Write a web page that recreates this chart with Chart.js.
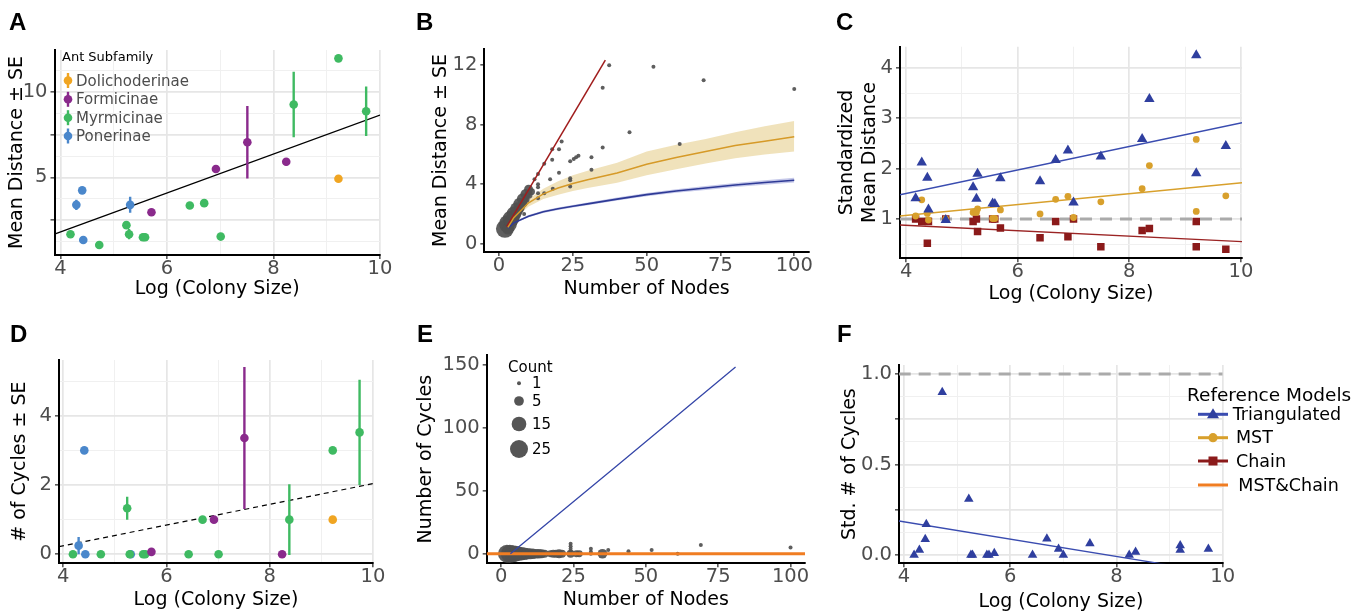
<!DOCTYPE html>
<html>
<head>
<meta charset="utf-8">
<title>Ant nest networks</title>
<script src="https://cdn.jsdelivr.net/npm/chart.js@4.4.1/dist/chart.umd.min.js"></script>
<style>
  body { margin: 0; background: #fff; }
  #page { position: relative; width: 1367px; height: 614px; overflow: hidden; font-family: "DejaVu Sans", Verdana, sans-serif; }
  canvas { position: absolute; }
  .tag { position: absolute; font: bold 24px "Liberation Sans", Arial, sans-serif; line-height: 24px; }
  .t { position: absolute; white-space: nowrap; }
  #keys { position: absolute; left: 0; top: 0; overflow: visible; }
</style>
</head>
<body>
<div id="page">
  <canvas id="chartA" width="405" height="305" style="left:0;top:0"></canvas>
  <canvas id="chartB" width="420" height="305" style="left:405px;top:0"></canvas>
  <canvas id="chartC" width="450" height="305" style="left:825px;top:0"></canvas>
  <canvas id="chartD" width="405" height="309" style="left:0;top:305px"></canvas>
  <canvas id="chartE" width="420" height="309" style="left:405px;top:305px"></canvas>
  <canvas id="chartF" width="542" height="309" style="left:825px;top:305px"></canvas>
  <svg id="keys" width="1367" height="614"></svg>
  <div class="tag" style="left:9px;top:10px">A</div>
  <div class="tag" style="left:416px;top:10px">B</div>
  <div class="tag" style="left:836px;top:10px">C</div>
  <div class="tag" style="left:10px;top:322px">D</div>
  <div class="tag" style="left:417px;top:322px">E</div>
  <div class="tag" style="left:837px;top:322px">F</div>
</div>
<script>
// ---- A & D: species means by ant subfamily ----
const subfamilies = ['Dolichoderinae', 'Formicinae', 'Myrmicinae', 'Ponerinae'];
const subColors = ['#f0a522', '#8a2a8c', '#3fba62', '#4a87cb'];

const doliLogSize = [9.22];
const doliDist = [4.92];
const doliDistSE = [0];
const doliCycles = [1.0];
const doliCyclesSE = [0];

const formLogSize = [5.71, 6.92, 7.51, 8.24];
const formDist = [2.96, 5.49, 7.06, 5.92];
const formDistSE = [0, 0, 2.13, 0.22];
const formCycles = [0.07, 1.0, 3.36, 0];
const formCyclesSE = [0, 0, 2.05, 0];

const myrmLogSize = [4.19, 4.73, 5.24, 5.29, 5.55, 5.59, 6.43, 6.70, 7.01, 8.38, 9.22, 9.74];
const myrmDist = [1.67, 1.04, 2.20, 1.67, 1.49, 1.49, 3.35, 3.49, 1.53, 9.27, 11.98, 8.88];
const myrmDistSE = [0, 0, 0, 0.3, 0, 0, 0, 0, 0, 1.92, 0, 1.45];
const myrmCycles = [0, 0, 1.33, 0, 0, 0, 0, 1.0, 0, 1.0, 3.0, 3.52];
const myrmCyclesSE = [0, 0, 0.33, 0, 0, 0, 0, 0, 0, 1.02, 0, 1.52];

const ponLogSize = [4.30, 4.41, 4.43, 5.31];
const ponDist = [3.39, 4.24, 1.33, 3.39];
const ponDistSE = [0.3, 0, 0, 0.47];
const ponCycles = [0.25, 3.0, 0, 0];
const ponCyclesSE = [0.25, 0, 0, 0];

const aFitX = [3.89, 10];
const aFitY = [1.67, 8.65];
const dFitX = [3.92, 10];
const dFitY = [0.22, 2.04];

// ---- B & E: individual networks ----
const bNodes = [2, 3, 3, 4, 4, 5, 5, 6, 6, 7, 7, 8, 8, 8.5, 9, 9, 10, 10, 11, 12, 13.2, 13.2, 13.2, 13.2, 13.2,
  15.3, 15.3, 17.3, 18, 18, 18.2, 20.3, 20.3, 21.2, 24.1, 24.1, 24.1, 24.1, 25.3, 26.1, 26.9, 31.3, 31.3,
  35.1, 35.1, 37.3, 44.2, 52.3, 61.2, 69.3, 100];
const bMeanDist = [1.0, 1.33, 1.0, 1.67, 1.5, 2.0, 1.8, 2.33, 2.1, 2.67, 2.4, 3.0, 2.7, 2.0, 3.33, 3.0, 3.67, 3.3, 3.5, 4.34, 4.69, 4.0, 3.8, 3.39, 3.06,
  5.37, 3.39, 4.34, 6.36, 5.64, 3.7, 6.36, 4.78, 6.87, 5.55, 4.4, 4.27, 3.84, 5.69, 5.82, 5.91, 5.82, 4.97,
  10.5, 6.47, 12.0, 7.5, 11.9, 6.7, 11.0, 10.4];
const bCount = [25, 25, 8, 20, 10, 15, 8, 12, 6, 10, 5, 8, 4, 1, 6, 3, 4, 3, 2, 1, 1, 1, 1, 1, 1,
  1, 1, 1, 1, 1, 1, 1, 1, 1, 1, 1, 1, 1, 1, 1, 1, 1, 1,
  1, 1, 1, 1, 1, 1, 1, 1];

const bCurveNodes = [3, 5, 10, 15, 20, 25, 30, 40, 50, 60, 70, 80, 90, 100];
const bMstMean = [1.1, 1.75, 2.75, 3.35, 3.75, 4.05, 4.3, 4.75, 5.35, 5.8, 6.2, 6.6, 6.9, 7.2];
const bMstLow = [1.0, 1.6, 2.5, 3.0, 3.3, 3.55, 3.75, 4.1, 4.6, 5.0, 5.4, 5.75, 6.0, 6.2];
const bMstHigh = [1.2, 1.9, 3.0, 3.7, 4.2, 4.6, 4.9, 5.45, 6.2, 6.65, 7.05, 7.5, 7.9, 8.25];
const bTriMean = [1.05, 1.4, 1.85, 2.15, 2.35, 2.52, 2.68, 3.0, 3.3, 3.55, 3.75, 3.95, 4.12, 4.27];
const bTriLow = [1.0, 1.33, 1.77, 2.07, 2.27, 2.43, 2.59, 2.9, 3.19, 3.43, 3.62, 3.81, 3.97, 4.11];
const bTriHigh = [1.1, 1.47, 1.93, 2.23, 2.43, 2.61, 2.77, 3.1, 3.41, 3.67, 3.88, 4.09, 4.27, 4.43];
const bChainNodes = [2.6, 36];
const bChainMean = [1.15, 12.35];

const eNodes = [2, 3, 4, 5, 6, 7, 8, 9, 10, 11, 12, 13, 14, 15, 3, 4, 5, 13, 17, 18, 19, 20, 21,
  24, 24, 24, 24, 24, 26, 27, 31, 31, 31, 35, 37, 44, 52, 61, 69, 100];
const eCycles = [0, 0, 0, 0, 0, 0, 0, 0, 0, 0, 0, 0, 0, 0, 1, 1, 1, 1, 0, 0, 0, 0, 0,
  0, 2, 4, 6, 8, 0, 0, 0, 1.5, 4, 0, 3, 2, 3, 0, 7, 5];
const eCount = [25, 25, 22, 18, 14, 12, 10, 8, 7, 6, 5, 5, 4, 3, 3, 2, 2, 1, 2, 3, 3, 4, 3,
  3, 1, 1, 1, 1, 2, 2, 1, 1, 1, 5, 1, 1, 1, 1, 1, 1];
const eTriNodes = [3.2, 40, 81];
const eTriCycles = [0, 70, 148.4];
const eZeroNodes = [-5, 105];
const eZeroCycles = [0, 0];
const countLegend = [1, 5, 15, 25];

// ---- C & F: standardized against reference models ----
const cLogSize = [4.17, 4.28, 4.38, 4.40, 4.71, 5.20, 5.26, 5.28, 5.55, 5.59, 5.69, 6.40, 6.68, 6.90, 7.00, 7.49, 8.23, 8.36, 9.20, 9.20, 9.73];
const cTri = [1.41, 2.12, 1.82, 1.19, 0.98, 1.63, 1.40, 1.90, 1.31, 1.30, 1.81, 1.75, 2.17, 2.36, 1.33, 2.24, 2.59, 3.38, 4.25, 1.91, 2.45];
const cMst = [1.06, 1.38, 1.11, 0.98, 1.0, 1.13, 1.13, 1.20, 1.01, 1.01, 1.18, 1.10, 1.39, 1.45, 1.03, 1.34, 1.60, 2.06, 2.58, 1.15, 1.46];
const cChain = [1.0, 0.95, 0.52, 0.95, 1.0, 0.95, 1.0, 0.75, 1.0, 1.0, 0.82, 0.63, 0.95, 0.65, 1.0, 0.45, 0.77, 0.81, 0.95, 0.45, 0.40];
const cFitX = [3.89, 10.02];
const cFitTri = [1.48, 2.91];
const cFitMst = [1.06, 1.72];
const cFitChain = [0.88, 0.55];

const fLogSize = [4.19, 4.29, 4.40, 4.42, 4.72, 5.22, 5.26, 5.29, 5.56, 5.60, 5.70, 6.42, 6.69, 6.91, 7.00, 7.50, 8.24, 8.36, 9.20, 9.20, 9.73];
const fTriCycles = [0, 0.028, 0.087, 0.17, 0.90, 0.31, 0, 0, 0, 0, 0.01, 0, 0.09, 0.033, 0, 0.064, 0, 0.017, 0.053, 0.028, 0.033];
const fFitX = [3.9, 10];
const fFitY = [0.188, -0.104];
const refLine = [1, 1];

const refModels = ['Triangulated', 'MST', 'Chain', 'MST&Chain'];

// ---- axis ticks ----
const logTicks = [4, 5, 6, 7, 8, 9, 10];
const logMajor = [4, 6, 8, 10];
const aYTicks = [1.25, 2.5, 3.75, 5, 6.25, 7.5, 8.75, 10, 11.25];
const aYMajor = [2.5, 5, 7.5, 10];
const aYLabels = [5, 10];
const nodeTicks = [0, 25, 50, 75, 100];
const bYTicks = [0, 4, 8, 12];
const cYTicks = [0.5, 1, 1.5, 2, 2.5, 3, 3.5, 4];
const cYMajor = [1, 2, 3, 4];
const dYTicks = [0, 1, 2, 3, 4, 5];
const dYMajor = [0, 2, 4];
const eYTicks = [0, 50, 100, 150];
const fYTicks = [0, 0.125, 0.25, 0.375, 0.5, 0.625, 0.75, 0.875, 1];
const fYMajor = [0, 0.25, 0.5, 0.75, 1];
const fYLabels = [0, 0.5, 1];

const TRI = '#2f3f9f', TRI_LINE = '#3a4cb0';
const MST = '#d8a02c', CHAIN = '#8b1a1a', BOTH = '#f07d22';

Chart.defaults.font.family = '"DejaVu Sans", Verdana, sans-serif';
Chart.defaults.animation = false;

const sizeFor = c => 2.0 + 7.0 * Math.sqrt((c - 1) / 24);
const near = (list, v) => list.some(a => Math.abs(a - v) < 1e-6);
const pts = (xs, ys) => xs.map((x, i) => ({ x, y: ys[i] }));

function axis(kind, o, size) {
  const majors = o.majors || o.ticks;
  const labels = o.labels || majors;
  const isMajor = c => c.tick && near(majors, c.tick.value);
  return {
    type: 'linear', min: o.min, max: o.max,
    afterBuildTicks: s => { s.ticks = o.ticks.map(v => ({ value: v })); },
    afterFit: s => { if (kind === 'x') s.height = size; else s.width = size; },
    border: { color: '#000', width: 2 },
    grid: {
      drawOnChartArea: o.grid !== false,
      color: c => isMajor(c) ? '#e6e6e6' : '#f0f0f0',
      lineWidth: c => isMajor(c) ? 1.7 : 1,
      tickLength: 4, tickWidth: 1.3,
      tickColor: c => isMajor(c) ? '#333' : 'rgba(0,0,0,0)'
    },
    ticks: {
      autoSkip: false, maxRotation: 0, padding: kind === 'x' ? 0 : 3,
      color: '#4d4d4d', font: { size: 19.5, lineHeight: 1 },
      callback: v => near(labels, v) ? (o.fmt ? o.fmt(v) : String(v)) : ''
    },
    title: {
      display: true, text: o.title, color: '#000',
      font: { size: 19, lineHeight: 1.2 },
      padding: kind === 'x' ? { top: 0, bottom: o.tpad } : { top: o.tpad, bottom: 0 }
    }
  };
}

function panel(id, box, plot, xo, yo, datasets) {
  xo.tpad = box.h - xo.titleAt - 11.4;
  yo.tpad = yo.titleAt - 11.4;
  return new Chart(document.getElementById(id), {
    type: 'scatter',
    data: { datasets },
    options: {
      responsive: false,
      layout: { padding: { left: 0, top: plot.top, right: box.w - plot.right, bottom: 0 } },
      plugins: { legend: { display: false }, tooltip: { enabled: false } },
      scales: { x: axis('x', xo, box.h - plot.bottom), y: axis('y', yo, plot.left) }
    }
  });
}

function dots(xs, ys, color, r, style, order) {
  return { data: pts(xs, ys), backgroundColor: color, borderColor: color, borderWidth: 0,
    pointRadius: r, pointStyle: style || 'circle', order: order || 1 };
}
function line(xs, ys, color, width, dash, order) {
  return { type: 'line', data: pts(xs, ys), borderColor: color, borderWidth: width, borderDash: dash || [],
    pointRadius: 0, fill: false, tension: 0, showLine: true, order: order || 2 };
}
function errBars(xs, ys, se, color) {
  const data = [];
  xs.forEach((x, i) => {
    if (se[i] > 0) data.push({ x, y: ys[i] - se[i] }, { x, y: ys[i] + se[i] }, { x, y: null });
  });
  return { type: 'line', data, borderColor: color, borderWidth: 2.4, pointRadius: 0, spanGaps: false,
    fill: false, showLine: true, order: 2 };
}

const groupX = [doliLogSize, formLogSize, myrmLogSize, ponLogSize];
const groupDist = [doliDist, formDist, myrmDist, ponDist];
const groupDistSE = [doliDistSE, formDistSE, myrmDistSE, ponDistSE];
const groupCyc = [doliCycles, formCycles, myrmCycles, ponCycles];
const groupCycSE = [doliCyclesSE, formCyclesSE, myrmCyclesSE, ponCyclesSE];

// A
const aSets = [line(aFitX, aFitY, '#000', 1.3, [], 3)];
subColors.forEach((col, g) => {
  aSets.push(errBars(groupX[g], groupDist[g], groupDistSE[g], col));
  aSets.push(dots(groupX[g], groupDist[g], col, 4.3));
});
panel('chartA', { w: 405, h: 305 }, { left: 54.5, top: 50, right: 380, bottom: 255 },
  { min: 3.89, max: 10, ticks: logTicks, majors: logMajor, title: 'Log (Colony Size)', titleAt: 289 },
  { min: 0.45, max: 12.47, ticks: aYTicks, majors: aYMajor, labels: aYLabels, title: 'Mean Distance ± SE', titleAt: 17 },
  aSets);

// B
panel('chartB', { w: 420, h: 305 }, { left: 79.3, top: 49, right: 404, bottom: 252 },
  { min: -5, max: 105, ticks: nodeTicks, grid: false, title: 'Number of Nodes', titleAt: 289.5 },
  { min: -0.56, max: 13.1, ticks: bYTicks, grid: false, title: 'Mean Distance ± SE', titleAt: 36 },
  [
    { data: pts(bNodes, bMeanDist), backgroundColor: 'rgba(80,80,80,0.92)', borderWidth: 0,
      pointRadius: bCount.map(sizeFor), order: 3 },
    { type: 'line', data: pts(bCurveNodes, bMstHigh), borderWidth: 0, borderColor: 'rgba(0,0,0,0)', pointRadius: 0,
      fill: '+1', backgroundColor: 'rgba(232,210,150,0.65)', order: 5 },
    { type: 'line', data: pts(bCurveNodes, bMstLow), borderWidth: 0, borderColor: 'rgba(0,0,0,0)', pointRadius: 0,
      fill: false, order: 5 },
    { type: 'line', data: pts(bCurveNodes, bTriHigh), borderWidth: 0, borderColor: 'rgba(0,0,0,0)', pointRadius: 0,
      fill: '+1', backgroundColor: 'rgba(150,155,215,0.55)', order: 5 },
    { type: 'line', data: pts(bCurveNodes, bTriLow), borderWidth: 0, borderColor: 'rgba(0,0,0,0)', pointRadius: 0,
      fill: false, order: 5 },
    line(bCurveNodes, bMstMean, '#d69a28', 1.5, [], 1),
    line(bCurveNodes, bTriMean, '#2e3a96', 1.6, [], 1),
    line(bChainNodes, bChainMean, '#a01c1c', 1.5, [], 1)
  ]);

// C
panel('chartC', { w: 450, h: 305 }, { left: 75, top: 46.7, right: 417, bottom: 258.3 },
  { min: 3.89, max: 10.02, ticks: logTicks, majors: logMajor, title: 'Log (Colony Size)', titleAt: 294 },
  { min: 0.22, max: 4.42, ticks: cYTicks, majors: cYMajor, title: ['Standardized', 'Mean Distance'], titleAt: 22 },
  [
    dots(cLogSize, cTri, TRI, 6, 'triangle', 1),
    dots(cLogSize, cMst, MST, 3.4, 'circle', 1),
    dots(cLogSize, cChain, CHAIN, 5.3, 'rect', 1),
    line(cFitX, cFitTri, TRI_LINE, 1.4, [], 2),
    line(cFitX, cFitMst, MST, 1.4, [], 2),
    line(cFitX, cFitChain, '#9b2424', 1.4, [], 2),
    line(cFitX, refLine, '#aaaaaa', 3, [12, 8], 3)
  ]);

// D
const dSets = [line(dFitX, dFitY, '#000', 1.2, [5, 4], 3)];
subColors.forEach((col, g) => {
  dSets.push(errBars(groupX[g], groupCyc[g], groupCycSE[g], col));
  dSets.push(dots(groupX[g], groupCyc[g], col, 4.3));
});
panel('chartD', { w: 405, h: 309 }, { left: 59, top: 55, right: 373, bottom: 258.3 },
  { min: 3.92, max: 10, ticks: logTicks, majors: logMajor, title: 'Log (Colony Size)', titleAt: 295 },
  { min: -0.26, max: 5.61, ticks: dYTicks, majors: dYMajor, title: '# of Cycles ± SE', titleAt: 20 },
  dSets);

// E
panel('chartE', { w: 420, h: 309 }, { left: 81.7, top: 50, right: 400, bottom: 258.3 },
  { min: -5, max: 105, ticks: nodeTicks, grid: false, title: 'Number of Nodes', titleAt: 295 },
  { min: -7.6, max: 158, ticks: eYTicks, grid: false, title: 'Number of Cycles', titleAt: 21 },
  [
    { data: pts(eNodes, eCycles), backgroundColor: 'rgba(80,80,80,0.92)', borderWidth: 0,
      pointRadius: eCount.map(sizeFor), order: 3 },
    line(eTriNodes, eTriCycles, '#3546a8', 1.3, [], 1),
    line(eZeroNodes, eZeroCycles, BOTH, 3, [], 1)
  ]);

// F
panel('chartF', { w: 542, h: 309 }, { left: 74, top: 60, right: 397.7, bottom: 258.3 },
  { min: 3.906, max: 10, ticks: logTicks, majors: logMajor, title: 'Log (Colony Size)', titleAt: 296.7 },
  { min: -0.046, max: 1.05, ticks: fYTicks, majors: fYMajor, labels: fYLabels, fmt: v => v.toFixed(1),
    title: 'Std. # of Cycles', titleAt: 25 },
  [
    dots(fLogSize, fTriCycles, TRI, 5.5, 'triangle', 1),
    line(fFitX, fFitY, TRI_LINE, 1.3, [], 2),
    line(fFitX, refLine, '#aaaaaa', 3, [12, 8], 3)
  ]);

// ---- legends (keys in svg, labels as text) ----
const page = document.getElementById('page');
function text(x, cy, str, size, color) {
  const d = document.createElement('div');
  d.className = 't';
  const lh = Math.round(size * 1.2);
  d.style.cssText = `left:${x}px;top:${cy - lh / 2}px;font-size:${size}px;line-height:${lh}px;color:${color}`;
  d.textContent = str;
  page.appendChild(d);
}
const keys = [];

// A legend
text(62, 57, 'Ant Subfamily', 13, '#000');
[80.5, 99.3, 117.7, 136].forEach((cy, i) => {
  keys.push(`<line x1="68" y1="${cy - 7.5}" x2="68" y2="${cy + 7.5}" stroke="${subColors[i]}" stroke-width="2.4"/>`);
  keys.push(`<circle cx="68" cy="${cy}" r="4.3" fill="${subColors[i]}"/>`);
  text(76, cy, subfamilies[i], 15, '#4d4d4d');
});

// E legend
text(508, 366.5, 'Count', 15, '#000');
[383.3, 401, 424, 449].forEach((cy, i) => {
  keys.push(`<circle cx="519" cy="${cy}" r="${sizeFor(countLegend[i]).toFixed(2)}" fill="#555"/>`);
  text(532, cy, String(countLegend[i]), 15, '#000');
});

// F legend
text(1187, 394.5, 'Reference Models', 18.5, '#000');
const refColors = [TRI_LINE, MST, CHAIN, BOTH];
const refMarks = [TRI, MST, CHAIN, null];
const refTextX = [1232.7, 1236, 1236, 1238.3];
[414.3, 437.7, 461, 485].forEach((cy, i) => {
  keys.push(`<line x1="1198" y1="${cy}" x2="1228" y2="${cy}" stroke="${refColors[i]}" stroke-width="3"/>`);
  if (i === 0) keys.push(`<polygon points="1213,${cy - 6} 1207,${cy + 4} 1219,${cy + 4}" fill="${refMarks[i]}"/>`);
  if (i === 1) keys.push(`<circle cx="1213" cy="${cy}" r="4.6" fill="${refMarks[i]}"/>`);
  if (i === 2) keys.push(`<rect x="1208.5" y="${cy - 4.5}" width="9" height="9" fill="${refMarks[i]}"/>`);
  text(refTextX[i], cy, refModels[i], 17.5, '#000');
});
document.getElementById('keys').innerHTML = keys.join('');
</script>
</body>
</html>
